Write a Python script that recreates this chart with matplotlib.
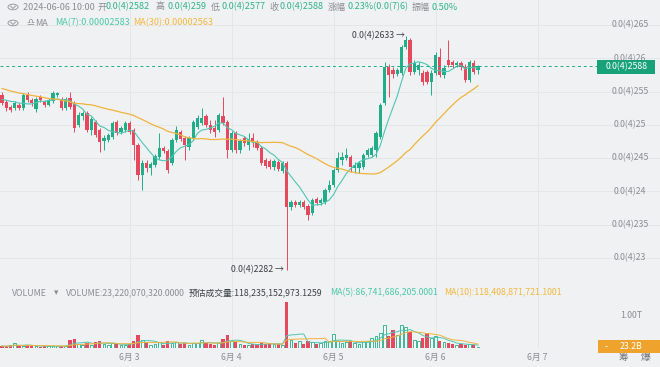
import numpy as np
import pandas as pd
import matplotlib
matplotlib.use('Agg')
import matplotlib.pyplot as plt
from matplotlib.patches import Rectangle

plt.rcParams['font.family'] = ['Noto Sans CJK SC', 'DejaVu Sans']

# ---------------- data (prices in units of 1e-5) ----------------
start_time = '2024-06-01 18:00'
opens = [2.545,2.534,2.527,2.525,2.530,2.525,2.545,2.537,2.524,2.542,
         2.534,2.530,2.536,2.545,2.539,2.525,2.540,2.533,2.500,2.513,
         2.518,2.492,2.504,2.492,2.476,2.477,2.482,2.504,2.489,2.492,
         2.503,2.492,2.470,2.425,2.443,2.435,2.440,2.452,2.465,2.461,
         2.443,2.477,2.489,2.480,2.467,2.480,2.497,2.503,2.513,2.500,
         2.495,2.492,2.513,2.504,2.462,2.488,2.462,2.480,2.470,2.480,
         2.474,2.465,2.447,2.446,2.437,2.444,2.431,2.443,2.377,2.384,
         2.380,2.384,2.378,2.368,2.389,2.383,2.384,2.402,2.410,2.432,
         2.447,2.450,2.452,2.435,2.435,2.437,2.455,2.455,2.462,2.482,
         2.533,2.587,2.582,2.576,2.578,2.617,2.627,2.579,2.582,2.578,
         2.579,2.564,2.578,2.602,2.575,2.597,2.594,2.590,2.593,2.587,
         2.567,2.593,2.582]
highs = [2.549,2.537,2.530,2.536,2.533,2.548,2.549,2.540,2.542,2.545,
         2.537,2.540,2.551,2.549,2.542,2.542,2.549,2.536,2.519,2.521,
         2.521,2.512,2.507,2.495,2.485,2.488,2.506,2.507,2.498,2.506,
         2.506,2.495,2.473,2.447,2.447,2.444,2.456,2.488,2.468,2.464,
         2.480,2.498,2.492,2.483,2.483,2.507,2.515,2.525,2.516,2.507,
         2.507,2.518,2.542,2.507,2.491,2.491,2.479,2.483,2.488,2.488,
         2.477,2.468,2.450,2.449,2.449,2.447,2.446,2.446,2.387,2.387,
         2.387,2.387,2.381,2.390,2.392,2.390,2.405,2.417,2.435,2.459,
         2.459,2.465,2.455,2.444,2.446,2.458,2.465,2.468,2.491,2.533,
         2.594,2.591,2.587,2.585,2.620,2.633,2.630,2.597,2.594,2.582,
         2.582,2.582,2.609,2.615,2.590,2.627,2.597,2.596,2.596,2.591,
         2.597,2.597,2.590]
lows = [2.530,2.521,2.519,2.522,2.522,2.522,2.534,2.528,2.519,2.534,
        2.527,2.528,2.533,2.542,2.522,2.522,2.524,2.489,2.497,2.507,
        2.489,2.485,2.482,2.459,2.462,2.474,2.479,2.485,2.486,2.489,
        2.486,2.447,2.417,2.402,2.429,2.425,2.437,2.449,2.458,2.428,
        2.440,2.474,2.476,2.447,2.462,2.477,2.494,2.500,2.497,2.488,
        2.482,2.489,2.500,2.450,2.459,2.458,2.458,2.468,2.462,2.467,
        2.462,2.440,2.435,2.434,2.432,2.431,2.428,2.282,2.372,2.377,
        2.377,2.374,2.357,2.365,2.380,2.380,2.381,2.399,2.407,2.429,
        2.440,2.447,2.429,2.428,2.428,2.434,2.452,2.452,2.452,2.479,
        2.530,2.542,2.570,2.573,2.575,2.614,2.575,2.576,2.575,2.560,
        2.561,2.545,2.575,2.572,2.570,2.587,2.585,2.587,2.582,2.564,
        2.564,2.576,2.577]
closes = [2.533,2.525,2.522,2.533,2.525,2.545,2.537,2.533,2.539,2.537,
          2.530,2.537,2.548,2.548,2.525,2.539,2.527,2.495,2.515,2.518,
          2.492,2.509,2.485,2.474,2.480,2.485,2.503,2.488,2.495,2.503,
          2.489,2.470,2.425,2.443,2.435,2.441,2.453,2.465,2.461,2.432,
          2.477,2.492,2.479,2.470,2.480,2.504,2.510,2.510,2.500,2.492,
          2.489,2.515,2.503,2.462,2.488,2.462,2.476,2.473,2.479,2.474,
          2.465,2.443,2.438,2.437,2.446,2.434,2.443,2.377,2.384,2.380,
          2.384,2.377,2.365,2.387,2.383,2.387,2.402,2.410,2.432,2.450,
          2.452,2.455,2.437,2.440,2.443,2.455,2.462,2.465,2.488,2.530,
          2.587,2.575,2.576,2.582,2.617,2.627,2.579,2.593,2.590,2.564,
          2.564,2.578,2.605,2.575,2.585,2.590,2.590,2.593,2.587,2.567,
          2.594,2.579,2.588]
# closes before the visible window (estimated so the MA30 matches the drawn line)
prior_closes = [2.582,2.579,2.575,2.576,2.570,2.573,2.578,2.572,2.567,2.570,
                2.575,2.569,2.564,2.567,2.570,2.563,2.560,2.531,2.528,2.525,
                2.522,2.527,2.530,2.533,2.534,2.537,2.540,2.545,2.545]
volumes_b = [60,50,80,150,60,70,90,50,60,40,
             50,60,70,60,50,60,250,280,120,100,
             150,100,180,200,120,90,150,130,80,100,
             120,200,400,250,150,100,120,180,100,200,
             150,180,120,150,100,160,140,250,150,120,
             100,150,280,380,200,180,120,100,90,110,
             100,160,120,140,110,120,100,1400,250,150,
             200,120,200,180,120,150,200,220,420,200,
             150,180,200,150,120,180,200,300,350,450,
             700,350,550,400,700,650,500,250,200,300,
             450,300,350,200,170,150,130,100,110,100,
             110,90,23.22]

price_ticks = [2.65, 2.60, 2.55, 2.50, 2.45, 2.40, 2.35, 2.30]
price_tick_labels = ['0.0(4)265', '0.0(4)26', '0.0(4)255', '0.0(4)25',
                     '0.0(4)245', '0.0(4)24', '0.0(4)235', '0.0(4)23']
day_dates = ['2024-06-03', '2024-06-04', '2024-06-05', '2024-06-06', '2024-06-07']
day_labels = ['6月 3', '6月 4', '6月 5', '6月 6', '6月 7']
last_price = 2.588
last_price_label = '0.0(4)2588'
max_label, min_label = '0.0(4)2633 →', '0.0(4)2282 →'
vol_tick_value = 1000
vol_tick_label = '1.00T'
last_vol_label = '23.2B'

# ---------------- styling ----------------
W, H = 660, 367
BG = '#f0f1f3'
GRID = '#e3e4e7'
UP = '#20ad88'
DN = '#e6485e'
MA7C = '#4fc6b3'
MA30C = '#f0b33e'
GRAY = '#8a8d93'
DARK = '#3c3f44'

o = np.array(opens); h = np.array(highs); l = np.array(lows); c = np.array(closes)
v = np.array(volumes_b)
n = len(c)
idx = np.arange(n)
t0 = pd.Timestamp(start_time)
up = c >= o

allc = pd.Series(list(prior_closes) + list(closes))
ma7 = allc.rolling(7).mean().values[len(prior_closes):]
ma30 = allc.rolling(30).mean().values[len(prior_closes):]
vs = pd.Series(v)
vma5 = vs.rolling(5, min_periods=1).mean().values
vma10 = vs.rolling(10, min_periods=1).mean().values

fig = plt.figure(figsize=(W / 100, H / 100), dpi=100)
fig.patch.set_facecolor(BG)

def fy(y):
    return 1 - y / H

def fx(x):
    return x / W

XL = (-2 / 4.25, (W - 2) / 4.25)
ax = fig.add_axes([0, fy(283), 1, 283 / H])
axv = fig.add_axes([0, fy(348), 1, 65 / H])
for a in (ax, axv):
    a.set_facecolor(BG)
    a.set_xlim(*XL)
    for s in a.spines.values():
        s.set_visible(False)
    a.set_xticks([]); a.set_yticks([])

ax.set_ylim(2.6875 - 0.0015015 * 283, 2.6875)
axv.set_ylim(0, 1970)

# grid
day_pos = [(pd.Timestamp(d) - t0) / pd.Timedelta(hours=1) for d in day_dates]
for p in price_ticks:
    ax.axhline(p, color=GRID, lw=0.6, zorder=0)
for dp in day_pos:
    ax.axvline(dp, color=GRID, lw=0.6, zorder=0)
    axv.axvline(dp, color=GRID, lw=0.6, zorder=0)

# candles
cols = np.where(up, UP, DN)
ax.vlines(idx, l, h, colors=cols, lw=0.7, zorder=2)
body = np.maximum(np.abs(c - o), 0.0012)
ax.bar(idx, body, bottom=np.minimum(o, c), width=0.75, color=cols, lw=0, zorder=3)

# MA lines
ax.plot(idx, ma7, color=MA7C, lw=0.8, zorder=4)
ax.plot(idx, ma30, color=MA30C, lw=0.9, zorder=4)

# last price dashed line
ax.plot([XL[0], (597 - 2) / 4.25], [last_price, last_price], color=UP, lw=0.7,
        dashes=(3, 3), zorder=4)

# volume
axv.bar(idx[~up], v[~up], width=0.75, color=DN, lw=0, zorder=2)
axv.bar(idx[up], v[up], width=0.65, facecolor='#f7fbfa', edgecolor=UP, lw=0.6, zorder=2)
axv.plot(idx, vma5, color=MA7C, lw=0.7, zorder=3)
axv.plot(idx, vma10, color=MA30C, lw=0.7, zorder=3)

FS = 6.3
FSH = 6.5
# price tick labels on the right
for p, lab in zip(price_ticks, price_tick_labels):
    yy = (2.6875 - p) / 0.0015015
    fig.text(fx(630), fy(yy), lab, ha='center', va='center', fontsize=FS, color=GRAY)

# last price box
fig.patches.append(Rectangle((fx(597), fy(74)), 58 / W, 14 / H, transform=fig.transFigure,
                             facecolor='#18a27a', edgecolor='none', zorder=10))
fig.text(fx(627), fy(67), last_price_label, ha='center', va='center', fontsize=FS,
         color='white', zorder=11)

# max / min annotations
fig.text(fx(405), fy(36), max_label, ha='right', va='center', fontsize=FS, color=DARK)
fig.text(fx(284), fy(270), min_label, ha='right', va='center', fontsize=FS, color=DARK)

# header icons
def circ(y):
    fig.patches.append(matplotlib.patches.Circle((fx(13), fy(y)), 5 / W,
                       transform=fig.transFigure, facecolor='none', edgecolor='#9a9da3', lw=0.7))
    fig.lines.append(matplotlib.lines.Line2D([fx(10.5), fx(13), fx(15.5)], [fy(y - 1), fy(y + 1.5), fy(y - 1)],
                     transform=fig.transFigure, color='#9a9da3', lw=0.7))

circ(7)
circ(23)
GREEN_T = '#30b48a'
pieces1 = [(23, '2024-06-06 10:00', GRAY), (97, '开', GRAY), (106, '0.0(4)2582', GREEN_T),
           (155, '高', GRAY), (167, '0.0(4)259', GREEN_T), (211, '低', GRAY),
           (222, '0.0(4)2577', GREEN_T), (269, '收', GRAY), (280, '0.0(4)2588', GREEN_T),
           (328, '涨幅', GRAY), (348, '0.23%(0.0(7)6)', GREEN_T), (412, '振幅', GRAY),
           (432, '0.50%', GREEN_T)]
for x, s, col in pieces1:
    fig.text(fx(x), fy(7), s, ha='left', va='center', fontsize=FSH, color=col)
pieces2 = [(26, '♎', GRAY), (35, 'MA', GRAY), (55, 'MA(7):0.00002583', '#4cc9a6'),
           (133, 'MA(30):0.00002563', '#f2b83c')]
for x, s, col in pieces2:
    fig.text(fx(x), fy(23), s, ha='left', va='center', fontsize=FSH, color=col)

# volume header
pieces3 = [(12, 'VOLUME', GRAY), (54, '▾', GRAY), (66, 'VOLUME:23,220,070,320.0000', GRAY),
           (189, '预估成交量:118,235,152,973.1259', DARK),
           (330, 'MA(5):86,741,686,205.0001', '#4cc9a6'),
           (444, 'MA(10):118,408,871,721.1001', '#f2b83c')]
for x, s, col in pieces3:
    fig.text(fx(x), fy(293), s, ha='left', va='center', fontsize=FS, color=col)

# volume axis labels
vy = 348 - vol_tick_value / 1970 * 65
fig.text(fx(631), fy(vy), vol_tick_label, ha='center', va='center', fontsize=FS, color=GRAY)
fig.patches.append(Rectangle((fx(598), fy(353)), 62 / W, 13 / H, transform=fig.transFigure,
                             facecolor='#f0a32c', edgecolor='none', zorder=10))
fig.text(fx(631), fy(346.5), last_vol_label, ha='center', va='center', fontsize=FS,
         color='white', zorder=11)
fig.text(fx(606), fy(346.5), '-', ha='center', va='center', fontsize=FS, color='white', zorder=11)

# date tick labels
for dp, lab in zip(day_pos, day_labels):
    fig.text(fx(2 + 4.25 * dp), fy(357), lab, ha='center', va='center', fontsize=FS, color=GRAY)
fig.text(fx(623), fy(357), '筹', ha='center', va='center', fontsize=7, color='#6a6d72')
fig.text(fx(646), fy(357), '爆', ha='center', va='center', fontsize=7, color='#6a6d72')

fig.savefig('out.png', dpi=100, facecolor=BG)
